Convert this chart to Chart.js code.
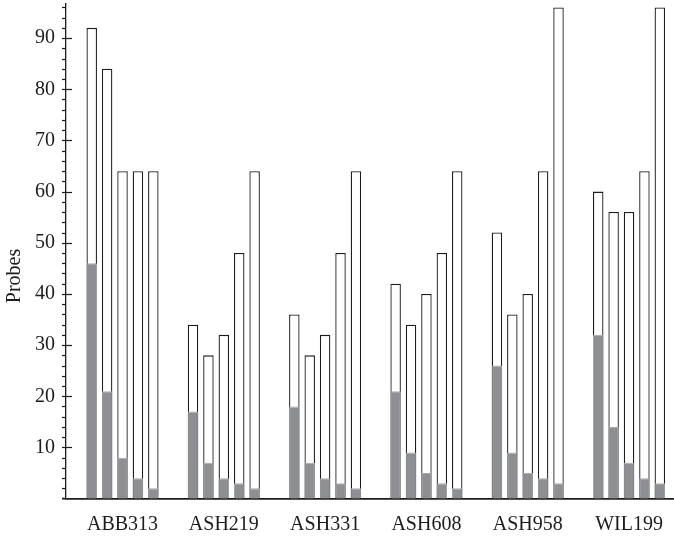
<!DOCTYPE html>
<html>
<head>
<meta charset="utf-8">
<script src="https://cdn.jsdelivr.net/npm/chart.js@4.4.0/dist/chart.umd.min.js"></script>
<style>
  html, body { margin: 0; padding: 0; background: #fff; }
  #chart { display: block; }
</style>
</head>
<body>
<canvas id="chart" width="674" height="540"></canvas>
<script>
// ======= data =======
const categories = ['ABB313', 'ASH219', 'ASH331', 'ASH608', 'ASH958', 'WIL199'];

// white (total) bars, one array per bar position in the group
const total1 = [92, 34, 36, 42, 52, 60];
const total2 = [84, 28, 28, 34, 36, 56];
const total3 = [64, 32, 32, 40, 40, 56];
const total4 = [64, 48, 48, 48, 64, 64];
const total5 = [64, 64, 64, 64, 96, 96];

// grey part at the bottom of each bar
const grey1 = [46, 17, 18, 21, 26, 32];
const grey2 = [21, 7, 7, 9, 9, 14];
const grey3 = [8, 4, 4, 5, 5, 7];
const grey4 = [4, 3, 3, 3, 4, 4];
const grey5 = [2, 2, 2, 2, 3, 3];

const yLabels = [10, 20, 30, 40, 50, 60, 70, 80, 90];
const yMinorStep = 2;
const yMax = 96.8;

const INK = '#1e1b1c';
const GREY = '#8e8f92';
const FONT = '"Liberation Serif", "Times New Roman", serif';

const totals = [total1, total2, total3, total4, total5];
const greys = [grey1, grey2, grey3, grey4, grey5];

function points(arr) {
  return arr.map((v, i) => ({ x: i + 1, y: v }));
}

const datasets = [];
greys.forEach((arr, k) => {
  datasets.push({
    data: points(arr),
    stack: 's' + k,
    order: 1,
    backgroundColor: GREY,
    borderColor: '#a7a8aa',
    borderWidth: 1
  });
});
totals.forEach((arr, k) => {
  datasets.push({
    data: points(arr),
    stack: 's' + k,
    order: 2,
    backgroundColor: '#ffffff',
    borderColor: INK,
    borderWidth: 1.3
  });
});

// y axis ticks (short minor, long major crossing the axis) + axis title
const axisExtras = {
  id: 'axisExtras',
  afterDraw(chart) {
    const ctx = chart.ctx;
    const y = chart.scales.y;
    const x0 = chart.chartArea.left;
    const yb = chart.chartArea.bottom;
    ctx.save();
    ctx.strokeStyle = INK;
    ctx.lineWidth = 1.2;
    for (let v = yMinorStep; v <= yMax; v += yMinorStep) {
      const py = Math.round(y.getPixelForValue(v)) + 0.5;
      const major = yLabels.includes(v);
      ctx.beginPath();
      ctx.moveTo(x0 - 4, py);
      ctx.lineTo(major ? x0 + 6 : x0, py);
      ctx.stroke();
    }
    // x axis line runs a bit past the y axis
    ctx.lineWidth = 1.8;
    ctx.beginPath();
    ctx.moveTo(x0 - 4, yb);
    ctx.lineTo(x0, yb);
    ctx.stroke();
    // axis title
    ctx.fillStyle = INK;
    ctx.font = '20px ' + FONT;
    ctx.textAlign = 'center';
    ctx.textBaseline = 'middle';
    ctx.translate(15, 276);
    ctx.rotate(-Math.PI / 2);
    ctx.fillText('Probes', 0, 0);
    ctx.restore();
  }
};

new Chart(document.getElementById('chart'), {
  type: 'bar',
  data: { datasets },
  plugins: [axisExtras],
  options: {
    responsive: false,
    animation: false,
    layout: { padding: { top: 3.3, left: 0, right: 0, bottom: 0 } },
    categoryPercentage: 0.76,
    barPercentage: 0.68,
    plugins: {
      legend: { display: false },
      tooltip: { enabled: false }
    },
    scales: {
      x: {
        type: 'linear',
        offset: false,
        min: 0.442,
        max: 6.444,
        grid: { display: false, drawTicks: false },
        border: { display: true, color: INK, width: 1.8 },
        afterBuildTicks: s => { s.ticks = categories.map((c, i) => ({ value: i + 1 })); },
        afterFit: s => { s.height = 41.4; s.paddingLeft = 0; s.paddingRight = 0; },
        ticks: {
          autoSkip: false,
          maxRotation: 0,
          padding: 14,
          color: INK,
          font: { family: FONT, size: 20 },
          callback: v => categories[v - 1]
        }
      },
      y: {
        stacked: false,
        min: 0,
        max: yMax,
        grid: { display: false, drawTicks: false },
        border: { display: true, color: INK, width: 1.3 },
        afterBuildTicks: s => { s.ticks = yLabels.map(v => ({ value: v })); },
        afterFit: s => { s.width = 66; s.paddingTop = 0; s.paddingBottom = 0; },
        ticks: {
          autoSkip: false,
          padding: 11,
          color: INK,
          font: { family: FONT, size: 20 }
        }
      }
    }
  }
});
</script>
</body>
</html>
